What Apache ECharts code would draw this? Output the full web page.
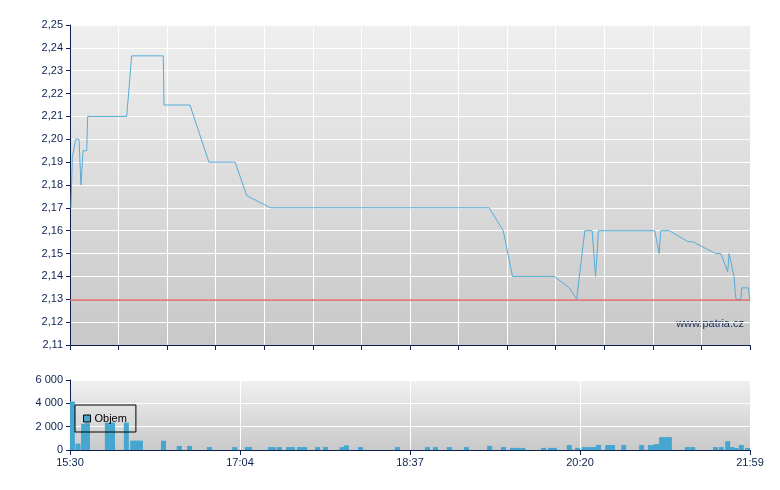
<!DOCTYPE html>
<html>
<head>
<meta charset="utf-8">
<script src="https://cdn.jsdelivr.net/npm/echarts@6/dist/echarts.min.js"></script>
<style>
html,body{margin:0;padding:0;background:#fff;}
#chart{width:780px;height:490px;}
</style>
</head>
<body>
<div id="chart"></div>
<script>
// osa x = poradi obchodniho intervalu (0..140)
var timeLabels = ['15:30', '17:04', '18:37', '20:20', '21:59'];
var refPrice = 2.13;

// cena
var lineX = [0.2, 0.47, 1.17, 1.85, 2.26, 2.68, 3.44, 3.64, 11.67, 12.7, 19.2, 19.35, 24.7, 28.6, 34.0, 36.4, 41.3,
    86.3, 89.2, 91.1, 99.7, 102.8, 104.3, 106.0, 107.5, 108.2, 108.8, 120.4, 121.3, 121.6, 123.4, 127.2, 128.2,
    132.9, 134.0, 135.4, 135.7, 136.1, 136.7, 137.0, 137.1, 138.1, 138.3, 139.7, 139.9];
var linePrice = [2.17, 2.192, 2.20, 2.20, 2.18, 2.195, 2.195, 2.21, 2.21, 2.2365, 2.2365, 2.215, 2.215, 2.19, 2.19, 2.1753, 2.17,
    2.17, 2.16, 2.14, 2.14, 2.135, 2.13, 2.16, 2.16, 2.14, 2.16, 2.16, 2.15, 2.16, 2.16, 2.1552, 2.1552,
    2.15, 2.15, 2.142, 2.15, 2.15, 2.14, 2.14, 2.13, 2.13, 2.135, 2.135, 2.13];

// objem
var volX = [0.5, 1.65, 2.8, 3.6, 7.7, 8.75, 11.6, 12.9, 13.7, 14.5, 19.25, 22.5, 24.6, 28.7, 33.9, 36.5, 36.95,
    41.3, 41.9, 43.1, 45.0, 45.8, 47.25, 48.3, 51.0, 52.6, 56.0, 56.9, 59.8, 67.4, 73.6, 75.25, 78.1, 81.6, 86.4,
    89.25, 91.1, 92.1, 93.2, 97.5, 98.9, 99.75, 102.8, 104.5, 105.9, 106.95, 107.8, 108.8, 110.7, 111.7, 114.0,
    117.7, 119.5, 120.3, 120.75, 121.8, 122.6, 123.4, 127.1, 128.2, 132.9, 134.1, 135.4, 136.3, 137.1, 138.2, 139.5];
var volValue = [4150, 550, 2250, 2300, 2350, 2350, 2350, 800, 800, 800, 800, 350, 350, 250, 250, 250, 250,
    250, 250, 250, 250, 250, 250, 250, 250, 250, 250, 400, 250, 250, 250, 250, 250, 250, 350,
    250, 180, 180, 180, 180, 180, 180, 420, 180, 250, 250, 250, 430, 430, 430, 430,
    430, 430, 430, 510, 1100, 1100, 1100, 250, 250, 250, 250, 750, 250, 170, 430, 170];

function pairs(xs, ys) {
    var out = [];
    for (var i = 0; i < xs.length; i++) {
        out.push([xs[i], ys[i]]);
    }
    return out;
}

var navy = '#0c2150';
var font = 'Liberation Sans';

function bg(top, bottom) {
    return new echarts.graphic.LinearGradient(0, 0, 0, 1, [
        {offset: 0, color: top},
        {offset: 1, color: bottom}
    ]);
}

var myChart = echarts.init(document.getElementById('chart'));
var option = {
    animation: false,
    textStyle: {fontFamily: font},
    legend: {
        data: ['Objem'],
        left: 75,
        top: 405,
        width: 60,
        padding: [8, 9, 8, 8],
        borderColor: '#000',
        borderWidth: 1,
        icon: 'rect',
        itemWidth: 7,
        itemHeight: 7,
        itemGap: 0,
        itemStyle: {borderColor: '#000', borderWidth: 1},
        textStyle: {fontSize: 11, color: '#000', fontFamily: font, padding: [0, 0, 0, -1]}
    },
    graphic: [{
        type: 'text',
        right: 36,
        top: 318,
        style: {text: 'www.patria.cz', fill: '#1a2a5c', font: '11px "Liberation Sans"'}
    }],
    grid: [
        {left: 70, top: 25, width: 680, height: 320, show: true, borderWidth: 0, backgroundColor: bg('#efefef', '#c8c8c8')},
        {left: 70, top: 380, width: 680, height: 70, show: true, borderWidth: 0, backgroundColor: bg('#f0f0f0', '#c9c9c9')}
    ],
    xAxis: [
        {
            type: 'value',
            gridIndex: 0,
            min: 0,
            max: 140,
            interval: 10,
            axisLine: {show: true, lineStyle: {color: navy, width: 1}},
            axisTick: {show: true, length: 5, lineStyle: {color: navy}},
            axisLabel: {show: false},
            splitLine: {show: true, lineStyle: {color: '#ffffff', width: 1}}
        },
        {
            type: 'value',
            gridIndex: 1,
            min: 0,
            max: 140,
            interval: 35,
            axisLine: {show: true, lineStyle: {color: navy, width: 1}},
            axisTick: {show: true, length: 5, lineStyle: {color: navy}},
            axisLabel: {
                color: navy,
                fontSize: 11,
                fontFamily: font,
                margin: 7,
                formatter: function (v) {
                    return timeLabels[Math.round(v / 35)];
                }
            },
            splitLine: {show: true, lineStyle: {color: '#ffffff', width: 1}}
        }
    ],
    yAxis: [
        {
            type: 'value',
            gridIndex: 0,
            min: 2.11,
            max: 2.25,
            interval: 0.01,
            axisLine: {show: true, lineStyle: {color: navy, width: 1}},
            axisTick: {show: true, length: 4, lineStyle: {color: navy}},
            axisLabel: {
                color: navy,
                fontSize: 11,
                fontFamily: font,
                margin: 7,
                formatter: function (v) {
                    return v.toFixed(2).replace('.', ',');
                }
            },
            splitLine: {show: true, lineStyle: {color: '#ffffff', width: 1}}
        },
        {
            type: 'value',
            gridIndex: 1,
            min: 0,
            max: 6000,
            interval: 2000,
            axisLine: {show: true, lineStyle: {color: navy, width: 1}},
            axisTick: {show: true, length: 4, lineStyle: {color: navy}},
            axisLabel: {
                color: navy,
                fontSize: 11,
                fontFamily: font,
                margin: 7,
                formatter: function (v) {
                    return String(v).replace(/\B(?=(\d{3})+(?!\d))/g, ' ');
                }
            },
            splitLine: {show: true, lineStyle: {color: '#ffffff', width: 1}}
        }
    ],
    series: [
        {
            name: 'Cena',
            type: 'line',
            xAxisIndex: 0,
            yAxisIndex: 0,
            symbol: 'none',
            lineStyle: {color: '#56acd8', width: 1},
            itemStyle: {color: '#56acd8'},
            data: pairs(lineX, linePrice),
            markLine: {
                silent: true,
                symbol: 'none',
                label: {show: false},
                lineStyle: {color: '#dc6464', type: 'solid', width: 1.5, opacity: 1},
                data: [{yAxis: refPrice}]
            },
            z: 3
        },
        {
            name: 'Objem',
            type: 'bar',
            xAxisIndex: 1,
            yAxisIndex: 1,
            barWidth: 5,
            itemStyle: {color: '#47a6cf'},
            data: pairs(volX, volValue)
        }
    ]
};

myChart.setOption(option);
</script>
</body>
</html>
